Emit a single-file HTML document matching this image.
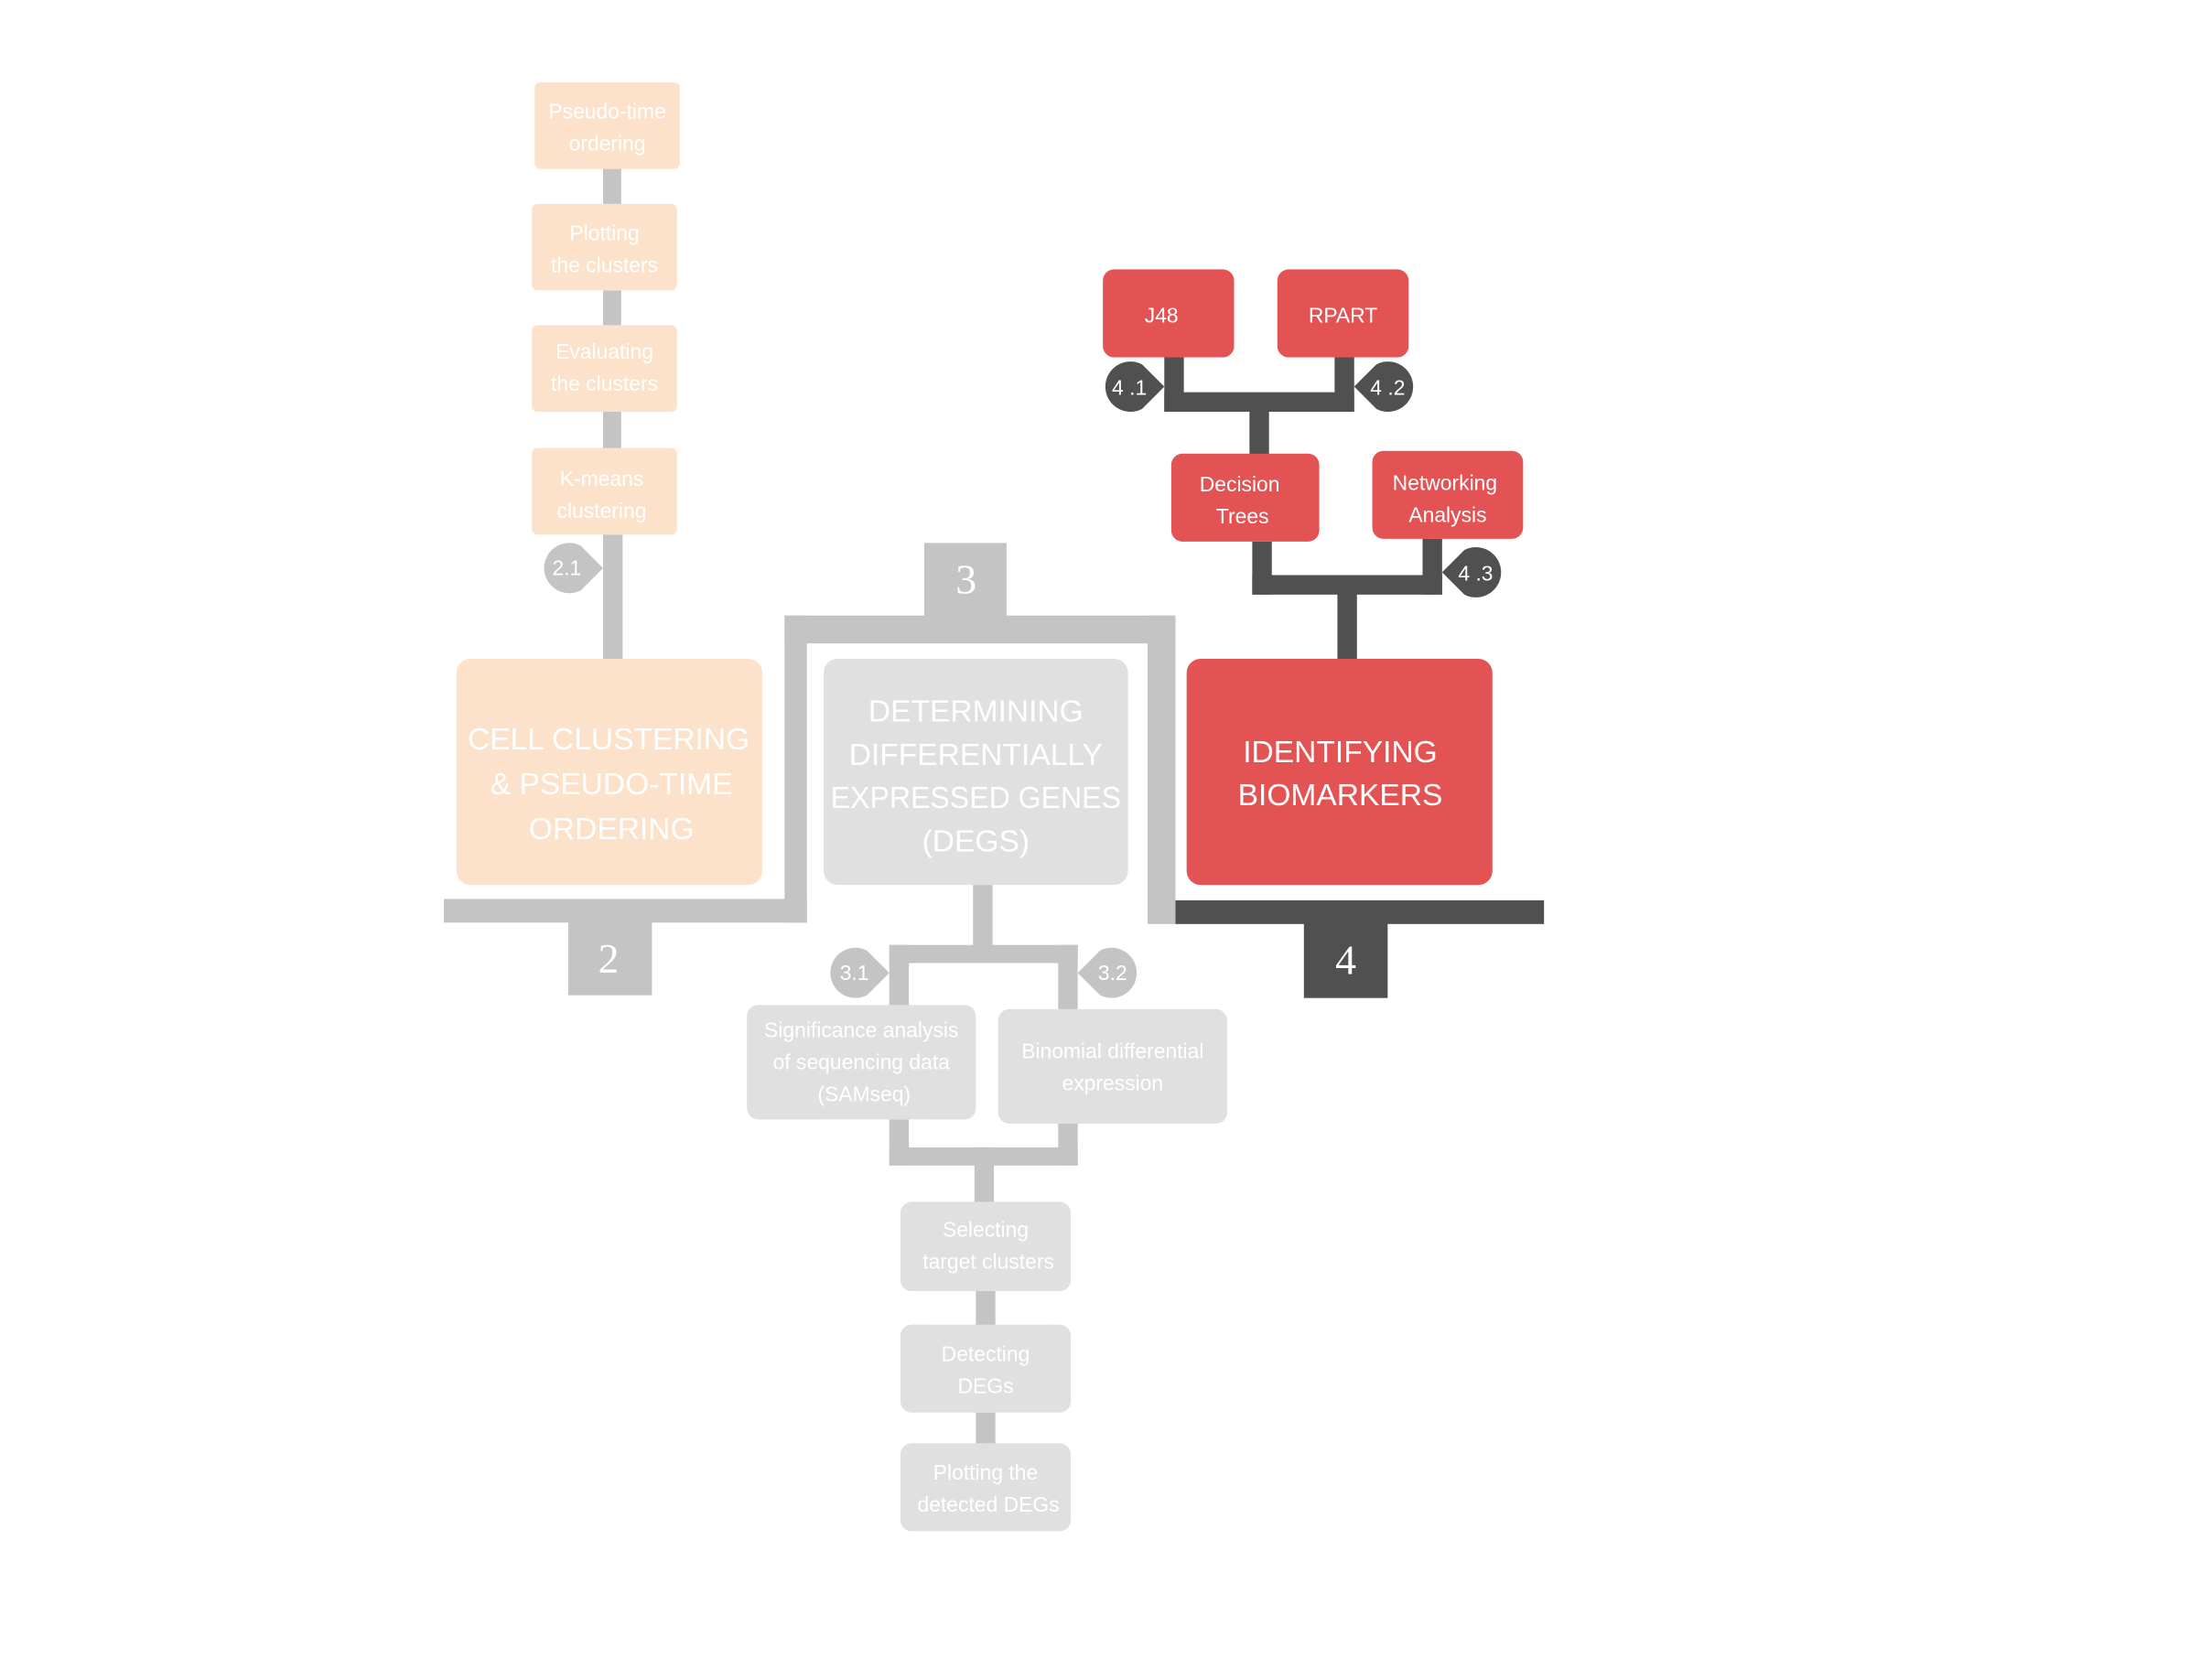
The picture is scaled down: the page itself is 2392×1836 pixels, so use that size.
<!DOCTYPE html>
<html><head><meta charset="utf-8"><style>
html,body{margin:0;padding:0;background:#fff;}
svg{display:block;}
text{font-family:"Liberation Sans",sans-serif;fill:#fff;text-anchor:middle;}
.s{font-size:15px;}
.b{font-size:22px;}
.n{font-family:"Liberation Serif",serif;font-size:30px;}
.bd{font-size:15px;}
</style></head><body>
<svg width="2392" height="1836" viewBox="0 0 1568 1203.6" preserveAspectRatio="none">
<g fill="#c4c4c4">
<rect x="432" y="121" width="13" height="26"/>
<rect x="432" y="208" width="13" height="26"/>
<rect x="432" y="295" width="13" height="27"/>
<rect x="432" y="383" width="14" height="90"/>
</g>
<g fill="#fde2cb">
<rect x="383" y="59" width="104" height="62" rx="4"/>
<rect x="381" y="146" width="104" height="62" rx="4"/>
<rect x="381" y="233" width="104" height="62" rx="4"/>
<rect x="381" y="321" width="104" height="62" rx="4"/>
<rect x="327" y="472" width="219" height="162" rx="10"/>
</g>
<text class="s" x="435" y="85">Pseudo-time</text><text class="s" x="435" y="108">ordering</text>
<text class="s" x="433" y="172">Plotting</text><text class="s" x="433" y="195">the clusters</text>
<text class="s" x="433" y="257">Evaluating</text><text class="s" x="433" y="280">the clusters</text>
<text class="s" x="431" y="348">K-means</text><text class="s" x="431" y="371">clustering</text>
<text class="b" x="436" y="537">CELL CLUSTERING</text>
<text class="b" x="438" y="569">&amp; PSEUDO-TIME</text>
<text class="b" x="438" y="601">ORDERING</text>
<path d="M432,407 L416,391 A18,18 0 1 0 416,423 Z" fill="#c4c4c4"/>
<text class="bd" x="406" y="412">2.1</text>

<g fill="#c4c4c4">
<rect x="318" y="644" width="260" height="17"/>
<rect x="562" y="441" width="16" height="220"/>
<rect x="562" y="441" width="278" height="20"/>
<rect x="822" y="441" width="20" height="221"/>
<rect x="662" y="389" width="59" height="53"/>
<rect x="407" y="660" width="60" height="53"/>
</g>
<text class="n" x="692" y="425">3</text>
<text class="n" x="436" y="697">2</text>

<rect x="590" y="472" width="218" height="162" rx="10" fill="#e0e0e0"/>
<text class="b" x="699" y="517">DETERMINING</text>
<text class="b" x="699" y="548">DIFFERENTIALLY</text>
<text class="b" x="699" y="579" textLength="208" lengthAdjust="spacingAndGlyphs">EXPRESSED GENES</text>
<text class="b" x="699" y="610">(DEGS)</text>
<g fill="#c4c4c4">
<rect x="697" y="634" width="14" height="44"/>
<rect x="637" y="677" width="135" height="13"/>
<rect x="637" y="677" width="14" height="44"/>
<rect x="758" y="677" width="14" height="46"/>
<rect x="637" y="802" width="14" height="33"/>
<rect x="758" y="805" width="14" height="30"/>
<rect x="637" y="822" width="135" height="13"/>
<rect x="698" y="822" width="14" height="40"/>
<rect x="699" y="925" width="14" height="25"/>
<rect x="699" y="1012" width="14" height="23"/>
</g>
<path d="M637,697 L621,681 A18,18 0 1 0 621,713 Z" fill="#c4c4c4"/>
<text class="bd" x="612" y="702">3.1</text>
<path d="M772,697 L788,681 A18,18 0 1 1 788,713 Z" fill="#c4c4c4"/>
<text class="bd" x="797" y="702">3.2</text>
<g fill="#e0e0e0">
<rect x="535" y="720" width="164" height="82" rx="8"/>
<rect x="715" y="723" width="164" height="82" rx="8"/>
<rect x="645" y="861" width="122" height="64" rx="8"/>
<rect x="645" y="949" width="122" height="63" rx="8"/>
<rect x="645" y="1034" width="122" height="63" rx="8"/>
</g>
<text class="s" x="617" y="743">Significance analysis</text>
<text class="s" x="617" y="766">of sequencing data</text>
<text class="s" x="619" y="789">(SAMseq)</text>
<text class="s" x="797" y="758">Binomial differential</text>
<text class="s" x="797" y="781">expression</text>
<text class="s" x="706" y="886">Selecting</text><text class="s" x="708" y="909">target clusters</text>
<text class="s" x="706" y="975">Detecting</text><text class="s" x="706" y="998">DEGs</text>
<text class="s" x="706" y="1060">Plotting the</text><text class="s" x="708" y="1083">detected DEGs</text>

<g fill="#505050">
<rect x="842" y="645" width="264" height="17"/>
<rect x="934" y="660" width="60" height="55"/>
<rect x="834" y="256" width="14" height="39"/>
<rect x="956" y="256" width="14" height="39"/>
<rect x="834" y="281" width="136" height="14"/>
<rect x="895" y="294" width="14" height="32"/>
<rect x="897" y="388" width="14" height="38"/>
<rect x="1019" y="386" width="14" height="40"/>
<rect x="897" y="412" width="136" height="14"/>
<rect x="958" y="425" width="14" height="48"/>
</g>
<text class="n" x="964" y="698">4</text>
<path d="M834,277 L818,261 A18,18 0 1 0 818,293 Z" fill="#505050"/>
<text class="bd" x="809" y="283">4 .1</text>
<path d="M970,277 L986,261 A18,18 0 1 1 986,293 Z" fill="#505050"/>
<text class="bd" x="994" y="283">4 .2</text>
<path d="M1033,410 L1049,394 A18,18 0 1 1 1049,426 Z" fill="#505050"/>
<text class="bd" x="1057" y="416">4 .3</text>
<g fill="#e35353">
<rect x="790" y="193" width="94" height="63" rx="8"/>
<rect x="915" y="193" width="94" height="63" rx="8"/>
<rect x="839" y="325" width="106" height="63" rx="8"/>
<rect x="983" y="323" width="108" height="63" rx="8"/>
<rect x="850" y="472" width="219" height="162" rx="10"/>
</g>
<text class="s" x="832" y="231">J48</text>
<text class="s" x="962" y="231">RPART</text>
<text class="s" x="888" y="352">Decision</text><text class="s" x="890" y="375">Trees</text>
<text class="s" x="1035" y="351">Networking</text><text class="s" x="1037" y="374">Analysis</text>
<text class="b" x="960" y="546">IDENTIFYING</text>
<text class="b" x="960" y="577">BIOMARKERS</text>
</svg>
</body></html>
